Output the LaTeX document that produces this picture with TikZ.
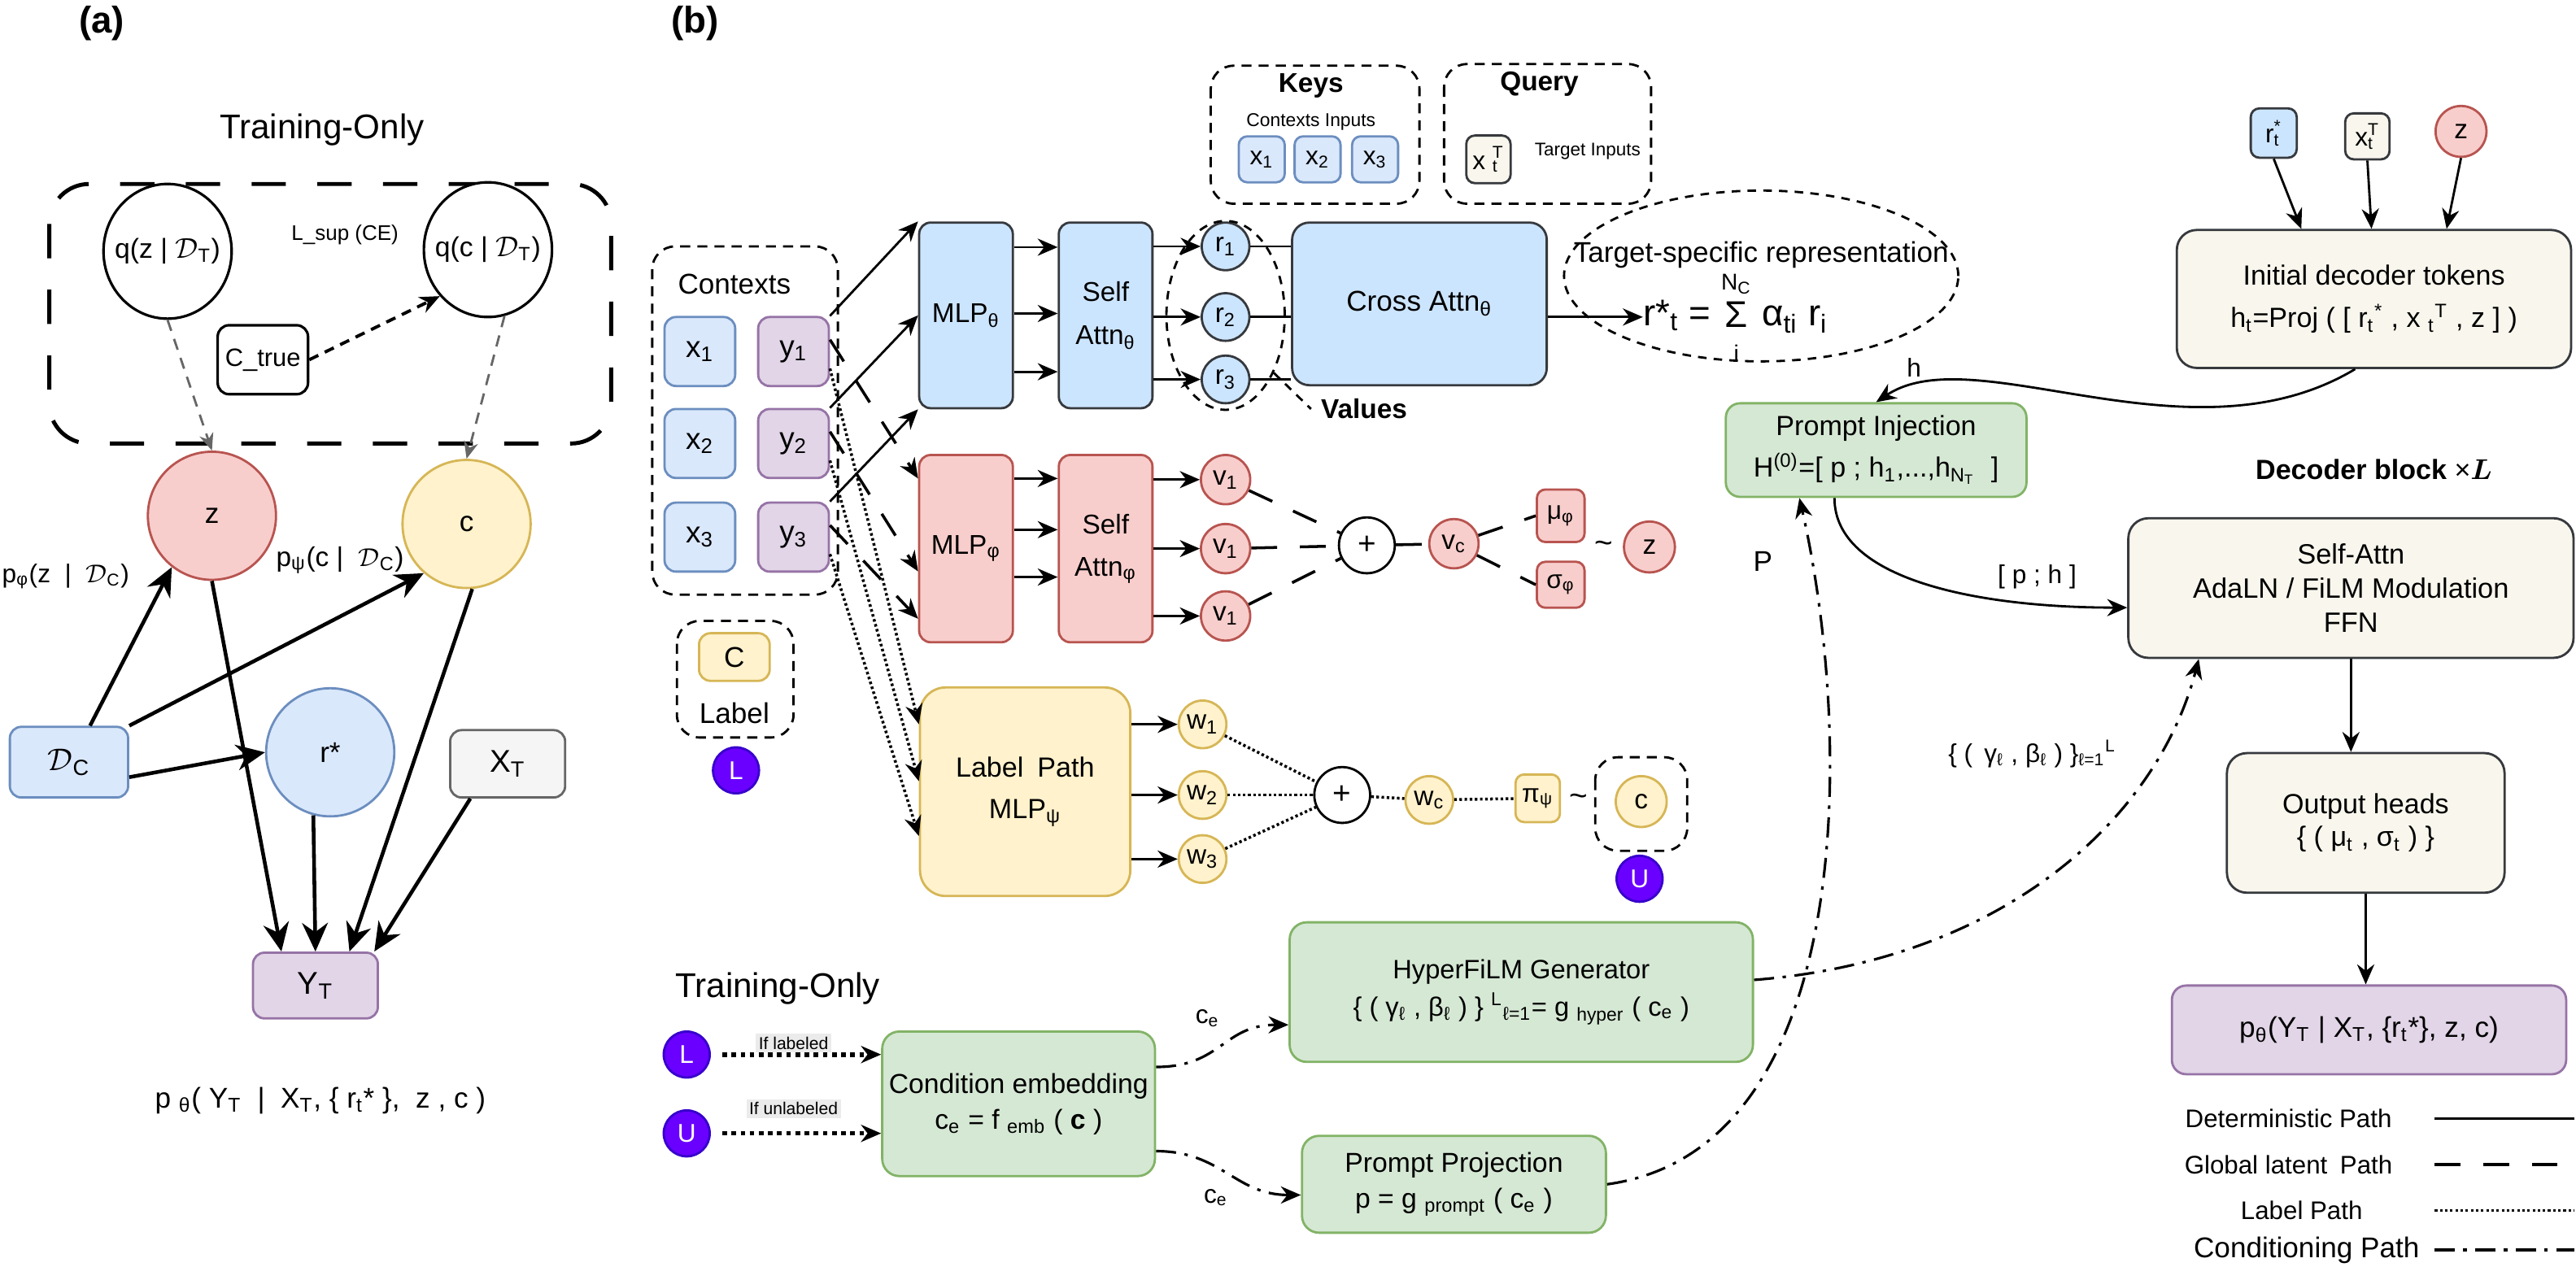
\documentclass[tikz,border=0pt]{standalone}
\usepackage{fontspec}
\setmainfont{Liberation Sans}
\usetikzlibrary{arrows.meta,shapes.geometric,calc}

\definecolor{ctxfill}{HTML}{DAE8FC}
\definecolor{ctxline}{HTML}{6C8EBF}
\definecolor{thfill}{HTML}{CCE5FF}
\definecolor{darkline}{HTML}{36393D}
\definecolor{phfill}{HTML}{F8CECC}
\definecolor{phline}{HTML}{B85450}
\definecolor{psfill}{HTML}{FFF2CC}
\definecolor{psline}{HTML}{D6B656}
\definecolor{tgfill}{HTML}{E1D5E7}
\definecolor{tgline}{HTML}{9673A6}
\definecolor{cdfill}{HTML}{D5E8D4}
\definecolor{cdline}{HTML}{82B366}
\definecolor{xtfill}{HTML}{F5F5F5}
\definecolor{xtline}{HTML}{666666}
\definecolor{decfill}{HTML}{F9F7ED}
\definecolor{lufill}{HTML}{6A00FF}
\definecolor{luline}{HTML}{3700CC}

\newcommand\fsz[2]{\fontsize{#1}{#2}\selectfont}
\newcommand\sbt[1]{\textsubscript{#1}}
\newcommand\spt[1]{\textsuperscript{#1}}
\newcommand\ssp[2]{\rlap{\textsubscript{#1}}\textsuperscript{#2}}
\newcommand\calD{$\mathcal{D}$}

\tikzset{
  sz/.style 2 args={minimum width=#1*0.0202cm, minimum height=#2*0.0202cm},
  blk/.style={draw, line width=0.8pt, rounded corners=4pt, inner sep=0pt, align=center, font=\fsz{9.7}{14}},
  ctxbox/.style={blk, fill=ctxfill, draw=ctxline},
  thbox/.style={blk, fill=thfill, draw=darkline},
  phbox/.style={blk, fill=phfill, draw=phline},
  psbox/.style={blk, fill=psfill, draw=psline},
  tgbox/.style={blk, fill=tgfill, draw=tgline},
  cdbox/.style={blk, fill=cdfill, draw=cdline},
  decbox/.style={blk, fill=decfill, draw=darkline},
  circnode/.style={circle, draw, line width=0.8pt, inner sep=0pt, font=\fsz{9.5}{11}},
  lunode/.style={circle, fill=lufill, draw=luline, line width=0.8pt, inner sep=0pt, text=white, font=\fsz{9}{10}, sz={28}{28}},
  qnode/.style={ellipse, draw, line width=0.9pt, fill=white, inner sep=0pt, sz={78}{82}},
  grp/.style={draw, line width=0.8pt, dash pattern=on 3.5pt off 2.5pt, rounded corners=8pt},
  arr/.style={-{Stealth[length=7pt,width=6pt]}, line width=0.8pt},
  bigarr/.style={-{Stealth[length=10pt,width=9pt]}, line width=1.3pt},
  qarr/.style={-{Stealth[length=6pt,width=5pt]}, line width=0.8pt, draw=xtline, dash pattern=on 4pt off 3pt},
  latent/.style={line width=1pt, dash pattern=on 9pt off 8pt},
  labelp/.style={line width=1pt, dash pattern=on 0.9pt off 0.9pt},
  condp/.style={line width=0.9pt, dash pattern=on 7pt off 3pt on 1.2pt off 3pt},
  trainp/.style={line width=1.6pt, dash pattern=on 1.6pt off 1.6pt},
  lbl/.style={inner sep=1pt, font=\fsz{9}{11}},
}

\begin{document}
\begin{tikzpicture}[x=0.0202cm, y=-0.0202cm]
\useasboundingbox (0,0) rectangle (1568,771);

% ---------- (a) graphical model
\node[font=\fsz{13}{15}\bfseries] (tagA) at (62,14) {(a)};
\node[font=\fsz{12}{14}] (trA) at (196,79) {Training-Only};
\draw[line width=1.4pt, dash pattern=on 12pt off 11pt, rounded corners=14pt] (30,112) rectangle (372,270);
\node[qnode, label={[font=\fsz{9.6}{11}]center:q(z | \calD\sbt{T})}] (qz) at (102,153) {};
\node[qnode, label={[font=\fsz{9.6}{11}]center:q(c | \calD\sbt{T})}] (qc) at (297,152) {};
\node[lbl, font=\fsz{7.4}{9}] (lsup) at (210,143) {L\_sup (CE)};
\node[draw, line width=0.9pt, rounded corners=4pt, sz={55}{42}, inner sep=0pt, font=\fsz{8.8}{10}] (ctrue) at (160,219) {C\_true};

\node[circnode, fill=phfill, draw=phline, sz={78}{78}, font=\fsz{10}{12}] (zA) at (129,314) {z};
\node[circnode, fill=psfill, draw=psline, sz={78}{78}, font=\fsz{10}{12}] (cA) at (284,319) {c};
\node[circnode, fill=ctxfill, draw=ctxline, sz={78}{78}, font=\fsz{10}{12}] (rA) at (201,458) {r*};
\node[ctxbox, sz={72}{43}, font=\fsz{11}{12}] (dcA) at (42,464) {\calD\sbt{C}};
\node[blk, fill=xtfill, draw=xtline, sz={70}{41}, font=\fsz{11}{12}] (xtA) at (309,465) {X\sbt{T}};
\node[tgbox, sz={76}{40}, font=\fsz{11}{12}] (ytA) at (192,600) {Y\sbt{T}};
\node[font=\fsz{9}{11}, anchor=west, inner sep=0pt] (pphi) at (1,351) {p\sbt{φ}(z \ | \ \calD\sbt{C})};
\node[font=\fsz{9.5}{11}] (ppsi) at (207,341) {p\sbt{ψ}(c | \ \calD\sbt{C})};
\node[font=\fsz{10}{12}] (capA) at (195,670) {p \sbt{θ}( Y\sbt{T} \ | \ X\sbt{T}, \{ r\sbt{t}* \}, \ z , c )};

\draw[qarr] (qz.south) -- (zA.north);
\draw[qarr] (qc.-76) -- (cA.north);
\draw[-{Stealth[length=7pt,width=6pt]}, line width=1.1pt, dash pattern=on 3.5pt off 2.5pt] (ctrue.east) -- (qc.-136);
\draw[bigarr] (dcA.60) -- (zA.-128);
\draw[bigarr] (dcA.north east) -- (cA.-131);
\draw[bigarr] (dcA.-14) -- (rA.west);
\draw[bigarr] (zA.south) -- (ytA.135);
\draw[bigarr] (rA.-105) -- (ytA.north);
\draw[bigarr] (cA.-85) -- (ytA.45);
\draw[bigarr] (xtA.-137) -- (ytA.30);

% ---------- (b) architecture
\node[font=\fsz{13}{15}\bfseries] (tagB) at (423,14) {(b)};

% contexts and label
\draw[grp] (397,150) rectangle (510,362);
\node[font=\fsz{10}{12}] (ctxt) at (447,173) {Contexts};
\foreach \i/\yy in {1/214,2/270,3/327}{
  \node[ctxbox, sz={43}{42}, font=\fsz{10.5}{12}] (x\i) at (426,\yy) {x\sbt{\i}};
  \node[tgbox, sz={43}{42}, font=\fsz{10.5}{12}] (y\i) at (483,\yy) {y\sbt{\i}};
}
\draw[grp] (412,378) rectangle (483,449);
\node[psbox, sz={43}{29}, font=\fsz{10}{12}] (clab) at (447,400) {C};
\node[font=\fsz{10}{12}] (labt) at (447,434) {Label};
\node[lunode] (lA) at (448,469) {L};

% keys and query
\draw[grp] (737,40) rectangle (864,124);
\node[font=\fsz{9.5}{11}\bfseries] (keyt) at (798,52) {Keys};
\node[font=\fsz{6.5}{8}] (kin) at (798,74) {Contexts Inputs};
\foreach \i/\xx in {1/768,2/802,3/837}
  \node[ctxbox, sz={28}{28}, rounded corners=3pt, font=\fsz{9}{10}] (k\i) at (\xx,97) {x\sbt{\i}};
\draw[grp] (879,39) rectangle (1005,124);
\node[font=\fsz{9.5}{11}\bfseries] (qryt) at (937,51) {Query};
\node[decbox, sz={27}{29}, rounded corners=3pt, font=\fsz{9}{10}] (qx) at (906,97) {x \ssp{t}{T}};
\node[font=\fsz{6.4}{8}, anchor=west] (tin) at (928,92) {Target Inputs};

% deterministic path
\node[thbox, sz={57}{113}, font=\fsz{9.5}{12}] (mlpT) at (588,192) {MLP\sbt{θ}};
\node[thbox, sz={57}{113}, font=\fsz{9.5}{15}] (saT) at (673,192) {Self\\Attn\sbt{θ}};
\foreach \i/\yy in {1/150,2/193,3/231}
  \node[circnode, fill=thfill, draw=darkline, sz={29}{29}] (r\i) at (746,\yy) {r\sbt{\i}};
\node[thbox, sz={155}{99}, rounded corners=6pt, font=\fsz{10}{12}] (cross) at (864,185) {Cross Attn\sbt{θ}};
\node[ellipse, draw, line width=0.8pt, dash pattern=on 3pt off 2.5pt, sz={72}{115}] (vals) at (746,192) {};
\node[font=\fsz{9.5}{11}\bfseries, anchor=west] (valt) at (798,249) {Values};
\node[ellipse, draw, line width=0.8pt, dash pattern=on 3pt off 2.5pt, sz={240}{104}] (tgt) at (1072,168) {};
\node[font=\fsz{10}{12}] (tgtt) at (1072,155) {Target-specific representation};
\node[font=\fsz{13}{15}, anchor=west, inner sep=0pt] (fml) at (1000,193)
  {r*\sbt{t} = \begin{tabular}[c]{@{}c@{}}{\fsz{8}{8}N\sbt{C}}\\[-2pt]Σ\\[-3pt]{\fsz{8}{8}i}\end{tabular} α\sbt{ti} r\sbt{i}};

% global latent path
\node[phbox, sz={57}{114}, font=\fsz{9.5}{12}] (mlpP) at (588,334) {MLP\sbt{φ}};
\node[phbox, sz={57}{114}, font=\fsz{9.5}{15}] (saP) at (673,334) {Self\\Attn\sbt{φ}};
\foreach \i/\yy in {1/292,2/334,3/375}
  \node[circnode, fill=phfill, draw=phline, sz={30}{30}] (v\i) at (746,\yy) {v\sbt{1}};
\node[circnode, fill=white, draw=black, sz={34}{34}, font=\fsz{11}{12}] (plusP) at (832,332) {+};
\node[circnode, fill=phfill, draw=phline, sz={30}{30}] (vc) at (885,331) {v\sbt{c}};
\node[phbox, sz={29}{32}, rounded corners=3pt, font=\fsz{9}{10}] (muP) at (950,314) {μ\sbt{φ}};
\node[phbox, sz={29}{28}, rounded corners=3pt, font=\fsz{9}{10}] (sgP) at (950,356) {σ\sbt{φ}};
\node[font=\fsz{11}{12}] (tilP) at (976,333) {\textasciitilde};
\node[circnode, fill=phfill, draw=phline, sz={31}{31}] (zB) at (1004,333) {z};

% label path
\node[psbox, sz={128}{127}, rounded corners=9pt, font=\fsz{9.7}{14.5}] (lp) at (624,482) {Label\enspace Path\\MLP\sbt{ψ}};
\foreach \i/\yy in {1/441,2/484,3/523}
  \node[circnode, fill=psfill, draw=psline, sz={29}{29}] (w\i) at (732,\yy) {w\sbt{\i}};
\node[circnode, fill=white, draw=black, sz={34}{34}, font=\fsz{11}{12}] (plusS) at (817,484) {+};
\node[circnode, fill=psfill, draw=psline, sz={29}{29}] (wc) at (870,487) {w\sbt{c}};
\node[psbox, sz={27}{29}, rounded corners=3pt, font=\fsz{9}{10}] (piS) at (936,486) {π\sbt{ψ}};
\node[font=\fsz{11}{12}] (tilS) at (961,487) {\textasciitilde};
\draw[grp] (971,461) rectangle (1027,518);
\node[circnode, fill=psfill, draw=psline, sz={31}{31}] (cB) at (999,488) {c};
\node[lunode] (uA) at (998,535) {U};

% conditioning (training only)
\node[font=\fsz{12}{14}, anchor=west] (trB) at (405,602) {Training-Only};
\node[lunode] (lB) at (418,642) {L};
\node[lunode] (uB) at (418,690) {U};
\node[fill=black!8, inner sep=1pt, font=\fsz{6}{7}] (iflab) at (483,635) {If labeled};
\node[fill=black!8, inner sep=1pt, font=\fsz{6}{7}] (ifun) at (483,675) {If unlabeled};
\node[cdbox, sz={166}{88}, rounded corners=6pt, font=\fsz{9.6}{12.5}] (cemb) at (620,672) {Condition embedding\\c\sbt{e} = f \sbt{emb} ( \textbf{c} )};
\node[cdbox, sz={282}{85}, rounded corners=6pt, font=\fsz{9.3}{13}] (hyper) at (926,604) {HyperFiLM Generator\\\{ ( γ\sbt{ℓ} , β\sbt{ℓ} ) \} \spt{L}\sbt{ℓ=1}= g \sbt{hyper} ( c\sbt{e} )};
\node[cdbox, sz={185}{59}, rounded corners=6pt, font=\fsz{9.6}{12.6}] (pproj) at (885,721) {Prompt Projection\\p = g \sbt{prompt} ( c\sbt{e} )};

% decoder
\node[thbox, sz={28}{30}, rounded corners=3pt, font=\fsz{9}{10}] (rt) at (1384,81) {r\ssp{t}{*}};
\node[decbox, sz={27}{28}, rounded corners=3pt, font=\fsz{9}{10}] (xtq) at (1441,83) {x\ssp{t}{T}};
\node[circnode, fill=phfill, draw=phline, sz={31}{31}] (zC) at (1498,80) {z};
\node[decbox, sz={240}{84}, rounded corners=7pt, font=\fsz{9.7}{15}] (init) at (1445,182) {Initial decoder tokens\\h\sbt{t}=Proj ( [ r\sbt{t}\spt{*} , x \sbt{t}\spt{T} , z ] )};
\node[cdbox, sz={183}{57}, rounded corners=5pt, font=\fsz{9.7}{14.5}] (pinj) at (1142,274) {Prompt Injection\\H\spt{(0)}=[ p ; h\sbt{1},...,h\sbt{N\sbt{T}} \ ]};
\node[font=\fsz{9.7}{11}] (decb) at (1445,286) {\textbf{Decoder block} ×{\boldmath$L$}};
\node[decbox, sz={271}{85}, rounded corners=7pt, font=\fsz{9.8}{12}] (sattn) at (1431,358) {Self-Attn\\AdaLN / FiLM Modulation\\FFN};
\node[decbox, sz={169}{85}, rounded corners=7pt, font=\fsz{9.7}{11.5}] (heads) at (1440,501) {Output heads\\\{ ( μ\sbt{t} , σ\sbt{t} ) \}};
\node[tgbox, sz={240}{54}, rounded corners=5pt, font=\fsz{10}{12}] (ptheta) at (1442,627) {p\sbt{θ}(Y\sbt{T} | X\sbt{T}, \{r\sbt{t}*\}, z, c)};

\node[lbl] (hlab) at (1165,224) {h};
\node[lbl] (phlab) at (1240,351) {[ p ; h ]};
\node[lbl, font=\fsz{10}{11}] (plab) at (1073,342) {P};
\node[lbl] (gblab) at (1237,459) {\{ (\, γ\sbt{ℓ} , β\sbt{ℓ} ) \}\sbt{ℓ=1}\spt{L}};
\node[lbl] (ceA) at (735,620) {c\sbt{e}};
\node[lbl] (ceB) at (740,729) {c\sbt{e}};

% legend
\node[font=\fsz{8.9}{10}] (lg1) at (1393,681) {Deterministic Path};
\node[font=\fsz{8.9}{10}] (lg2) at (1393,709) {Global latent\enspace Path};
\node[font=\fsz{8.9}{10}] (lg3) at (1401,737) {Label Path};
\node[font=\fsz{10}{11}] (lg4) at (1404,761) {Conditioning Path};
\coordinate (lgA) at (1482,681);
\coordinate (lgB) at (1482,709);
\coordinate (lgC) at (1482,737);
\coordinate (lgD) at (1482,761);
\draw[line width=1pt] (lgA) -- ++(85,0);
\draw[latent] (lgB) -- ++(85,0);
\draw[labelp] (lgC) -- ++(85,0);
\draw[condp] (lgD) -- ++(85,0);

% --- connectors: deterministic
\draw[arr] (y1.north east) -- (mlpT.north west);
\draw[arr] (y2.north east) -- (mlpT.west);
\draw[arr] (y3.north east) -- (mlpT.south west);
\foreach \f [count=\i] in {0.137,0.49,0.8}{
  \path ($(mlpT.north east)!\f!(mlpT.south east)$) coordinate (mt\i);
  \draw[arr] (mt\i) -- (saT.west |- mt\i);
}
\foreach \i in {1,2,3}{
  \draw[arr] (saT.east |- r\i) -- (r\i);
  \draw[line width=0.8pt] (r\i) -- (cross.west |- r\i);
}
\draw[arr] (cross.east |- fml.west) -- (fml.west);
\draw[line width=0.8pt, dash pattern=on 3pt off 2.5pt] (vals.-50) -- (valt.west);

% --- connectors: global latent
\foreach \i/\f in {1/0.13,2/0.62,3/0.87}{
  \path ($(mlpP.north west)!\f!(mlpP.south west)$) coordinate (mp\i);
  \draw[latent, -{Stealth[length=7pt,width=6pt]}] (y\i.18) -- (mp\i);
}
\foreach \f [count=\i] in {0.13,0.40,0.65}{
  \path ($(mlpP.north east)!\f!(mlpP.south east)$) coordinate (mq\i);
  \draw[arr] (mq\i) -- (saP.west |- mq\i);
}
\foreach \i in {1,2,3}{
  \draw[arr] (saP.east |- v\i) -- (v\i);
  \draw[latent] (v\i) -- (plusP);
}
\draw[latent] (plusP) -- (vc);
\draw[latent] (vc) -- (muP.west);
\draw[latent] (vc) -- (sgP.west);

% --- connectors: label path
\foreach \i/\f in {1/0.18,2/0.45,3/0.71}{
  \path ($(lp.north west)!\f!(lp.south west)$) coordinate (lq\i);
  \draw[labelp, -{Stealth[length=7pt,width=6pt]}] (y\i.-25) -- (lq\i);
}
\foreach \i in {1,2,3}{
  \draw[arr] (lp.east |- w\i) -- (w\i);
  \draw[labelp] (w\i) -- (plusS);
}
\draw[labelp] (plusS) -- (wc);
\draw[labelp] (wc) -- (piS);

% --- connectors: conditioning
\draw[trainp, -{Stealth[length=7pt,width=6pt]}, shorten <=4pt] (lB) -- (cemb.west |- lB);
\draw[trainp, -{Stealth[length=7pt,width=6pt]}, shorten <=4pt] (uB) -- (cemb.west |- uB);
\draw[condp, -{Stealth[length=7pt,width=6pt]}] (cemb.15) .. controls +(40,0) and +(-40,0) .. (hyper.-172);
\draw[condp, -{Stealth[length=7pt,width=6pt]}] (cemb.-19) .. controls +(40,0) and +(-40,0) .. (pproj.-176);
\draw[condp, -{Stealth[length=7pt,width=6pt]}] (hyper.3) .. controls +(153,-12) and +(-25,96) .. (sattn.-155);
\draw[condp, -{Stealth[length=7pt,width=6pt]}] (pproj.east) .. controls +(152,-21) and +(33,145) .. (pinj.-148);

% --- connectors: decoder
\draw[arr] (rt.south) -- (init.136);
\draw[arr] (xtq.south) -- (init.92);
\draw[arr] (zC.south) -- (init.44);
\draw[arr] (init.-105) .. controls +(-100,60) and +(60,-40) .. (pinj.north);
\draw[arr] (pinj.-131) .. controls +(0,50) and +(-90,0) .. (sattn.185);
\draw[arr] (sattn.south) -- (sattn.south |- heads.north);
\draw[arr] (heads.south) -- (heads.south |- ptheta.north);
\end{tikzpicture}
\end{document}
